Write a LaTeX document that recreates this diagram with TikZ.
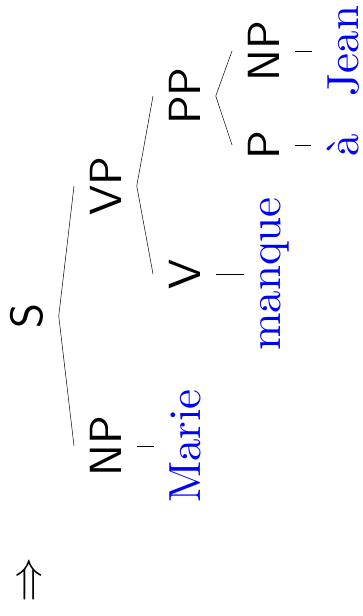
\documentclass[tikz,border=0pt]{standalone}
\begin{document}
\begin{tikzpicture}[x=1pt,y=-1pt,
  cat/.style={rotate=90, scale=4.5, anchor=base, inner xsep=0pt, inner ysep=3.5pt, outer sep=0pt,
    font=\normalsize\sffamily},
  word/.style={rotate=90, scale=4.5, anchor=base, inner xsep=0pt, inner ysep=3.5pt, outer sep=0pt,
    text=blue, font=\normalsize\rmfamily},
  branch/.style={draw=black, line width=0.5pt}]
\useasboundingbox (0,0) rectangle (363,616);
% categories
\node[cat] (S) at (42,316) {S};
\node[cat] (VP) at (121,186) {VP};
\node[cat] (NPs) at (121,446) {NP};
\node[cat] (PP) at (200,96) {PP};
\node[cat] (V) at (200,274) {V};
\node[cat] (NPo) at (279,51) {NP};
\node[cat] (P) at (279,145) {P};
% words
\node[word] (Marie) at (200,446) {Marie};
\node[word] (manque) at (280,274) {manque};
\node[word] (Jean) at (358,51) {Jean};
\node[word] (a) at (358,145) {à};
% arrow
\node[rotate=90, scale=4.5, inner sep=0pt] (arr) at (32,580) {$\Rightarrow$};
% branches
\draw[branch] (S.south) -- (VP.north);
\draw[branch] (S.south) -- (NPs.north);
\draw[branch] (VP.south) -- (PP.north);
\draw[branch] (VP.south) -- (V.north);
\draw[branch] (PP.south) -- (NPo.north);
\draw[branch] (PP.south) -- (P.north);
% lexical dashes
\draw[branch] (NPs.south) -- (Marie.north);
\draw[branch] (V.south) -- (manque.north);
\draw[branch] (NPo.south) -- (Jean.north);
\draw[branch] (P.south) -- (a.north);
\end{tikzpicture}
\end{document}
